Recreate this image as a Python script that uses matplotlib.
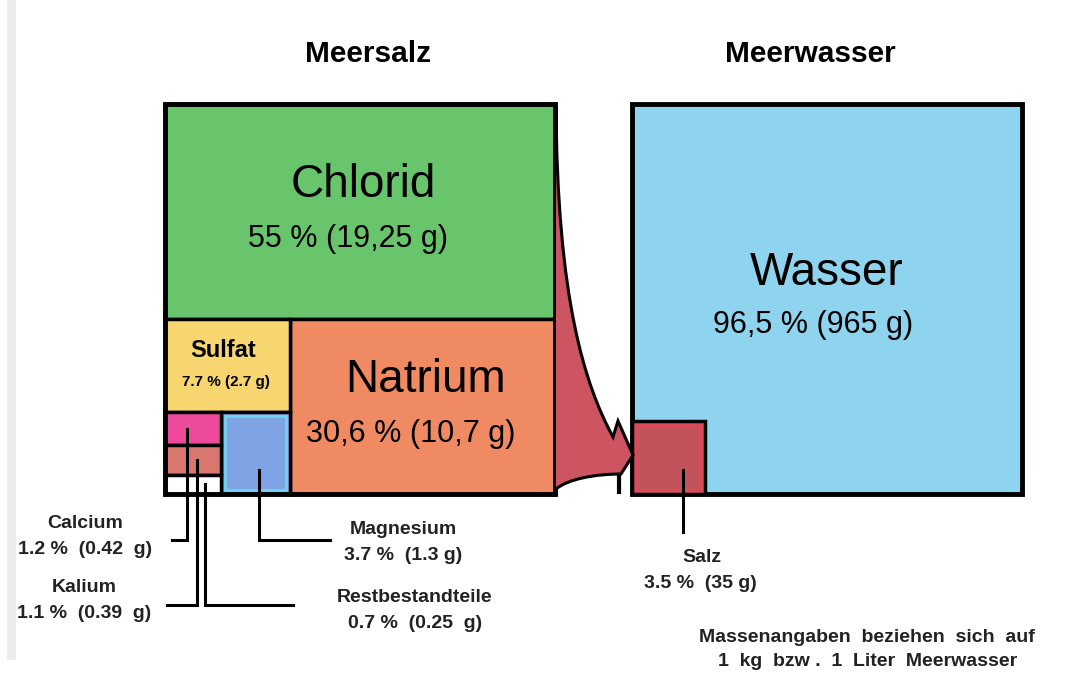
import numpy as np
import matplotlib.pyplot as plt
from matplotlib.patches import Rectangle, PathPatch
from matplotlib.path import Path

plt.rcParams['font.family'] = ['Liberation Sans', 'DejaVu Sans']

# Meersalz: Anteile am Salz (%) und Masse je kg Meerwasser
salz_namen = ['Chlorid', 'Natrium', 'Sulfat', 'Magnesium', 'Calcium', 'Kalium', 'Restbestandteile']
salz_prozent = [55, 30.6, 7.7, 3.7, 1.2, 1.1, 0.7]
salz_text = ['55 % (19,25 g)', '30,6 % (10,7 g)', '7.7 % (2.7 g)', '3.7 %  (1.3 g)',
             '1.2 %  (0.42  g)', '1.1 %  (0.39  g)', '0.7 %  (0.25  g)']
salz_farben = ['#68c56b', '#f08a62', '#f7d56f', '#7fa3e4', '#ee4a9c', '#d9776e', '#ffffff']

# Meerwasser
wasser_namen = ['Wasser', 'Salz']
wasser_prozent = [96.5, 3.5]
wasser_text = ['96,5 % (965 g)', '3.5 %  (35 g)']
wasser_farben = ['#8fd4ee', '#c2525c']

W, H = 1067, 675
fig = plt.figure(figsize=(W / 100, H / 100), dpi=100)
ax = fig.add_axes([0, 0, 1, 1])
ax.set_xlim(0, W)
ax.set_ylim(H, 0)
ax.axis('off')

S = 390            # Pixel je Einheit (Quadrat = 100 %)
LX, TY = 165, 104  # Meersalz oben links
RX = 632           # Meerwasser oben links

# faint scan strip on the left
ax.add_patch(Rectangle((7, 0), 9, 660, fc='#ececf0', ec='none'))

def box(x0, x, y, w, h, fc, lw=3):
    ax.add_patch(Rectangle((x0 + x * S, TY + y * S), w * S, h * S,
                           fc=fc, ec='black', lw=lw, joinstyle='miter'))
    return x0 + (x + w / 2) * S, TY + (y + h / 2) * S

# treemap layout from the shares
p = [v / 100 for v in salz_prozent]
chl_h = p[0]
low_h = 1 - chl_h
nat_w = p[1] / low_h
col_w = 1 - nat_w
sul_h = p[2] / col_w
mg_h = low_h - sul_h
mg_w = p[3] / mg_h
sm_w = col_w - mg_w
ca_h = p[4] / sm_w
k_h = p[5] / sm_w
r_h = p[6] / sm_w

zell = [
    (0, 0, 1, chl_h),
    (col_w, chl_h, nat_w, low_h),
    (0, chl_h, col_w, sul_h),
    (sm_w, chl_h + sul_h, mg_w, mg_h),
    (0, chl_h + sul_h, sm_w, ca_h),
    (0, chl_h + sul_h + ca_h, sm_w, k_h),
    (0, chl_h + sul_h + ca_h + k_h, sm_w, r_h),
]
mitte = []
for (x, y, w, h), fc in zip(zell, salz_farben):
    mitte.append(box(LX, x, y, w, h, fc, lw=2.5))

# inner tint on Magnesium
x, y, w, h = zell[3]
ax.add_patch(Rectangle((LX + x * S + 4, TY + y * S + 4), w * S - 8, h * S - 8,
                       fc='none', ec='#6fd3f2', lw=2))
# outer frame
ax.add_patch(Rectangle((LX, TY), S, S, fc='none', ec='black', lw=3.5))

# Meerwasser
q = [v / 100 for v in wasser_prozent]
seite = np.sqrt(q[1])
wx, wy = box(RX, 0, 0, 1, 1, wasser_farben[0], lw=3.5)
sx, sy = box(RX, 0, 1 - seite, seite, seite, wasser_farben[1], lw=2.5)
ax.add_patch(Rectangle((RX + 4, TY + (1 - seite) * S + 4), seite * S - 8, seite * S - 8,
                       fc='none', ec='#e04858', lw=2))

# funnel arrow from Meersalz to Salz
verts = [(556, 104), (557, 300), (585, 385), (613, 437),
         (618, 421), (633, 455), (621, 474),
         (595, 474), (568, 479), (556, 489), (556, 104)]
codes = [Path.MOVETO, Path.CURVE4, Path.CURVE4, Path.CURVE4,
         Path.LINETO, Path.LINETO, Path.LINETO,
         Path.CURVE4, Path.CURVE4, Path.CURVE4, Path.CLOSEPOLY]
ax.add_patch(PathPatch(Path(verts, codes), fc='#cc5561', ec='none'))
ax.add_patch(PathPatch(Path(verts[:10], codes[:10]), fc='none', ec='black', lw=2.2,
                       joinstyle='miter'))
ax.plot([619, 619], [474, 494], color='black', lw=3, solid_capstyle='butt')

# titles
ax.text(368, 54, 'Meersalz', ha='center', va='center', fontsize=21.5, fontweight='bold')
ax.text(810, 54, 'Meerwasser', ha='center', va='center', fontsize=21.5, fontweight='bold')

# labels inside cells
for i in [0, 1]:
    cx, cy = mitte[i]
    ax.text(cx + 3, cy - 26, salz_namen[i], ha='center', va='center', fontsize=33)
    ax.text(cx - 12, cy + 28, salz_text[i], ha='center', va='center', fontsize=22)
ax.text(wx, wy - 26, wasser_namen[0], ha='center', va='center', fontsize=33)
ax.text(wx - 14, wy + 26, wasser_text[0], ha='center', va='center', fontsize=22)
cx, cy = mitte[2]
ax.text(cx - 4, cy - 15, salz_namen[2], ha='center', va='center', fontsize=17, fontweight='bold')
ax.text(cx - 1, cy + 17, salz_text[2], ha='center', va='center', fontsize=11, fontweight='bold')

# leader lines
lk = dict(color='black', lw=2.2, solid_joinstyle='miter')
ax.plot([187, 187, 172], [mitte[4][1], 540, 540], **lk)
ax.plot([197, 197, 167], [mitte[5][1], 605, 605], **lk)
ax.plot([205, 205, 293], [mitte[6][1], 605, 605], **lk)
ax.plot([259, 259, 330], [470, 540, 540], **lk)
ax.plot([683, 683], [470, 532], **lk)

# outside labels
fs = 14
aussen = [(4, 85, 523), (5, 84, 588), (3, 403, 530), (6, 415, 597)]
for i, tx, ty in aussen:
    ax.text(tx, ty, salz_namen[i], ha='center', va='center', fontsize=fs, fontweight='bold', color='#222222')
    ax.text(tx, ty + 26, salz_text[i], ha='center', va='center', fontsize=fs, fontweight='bold', color='#222222')
ax.text(702, 557, wasser_namen[1], ha='center', va='center', fontsize=fs, fontweight='bold', color='#222222')
ax.text(700, 583, wasser_text[1], ha='center', va='center', fontsize=fs, fontweight='bold', color='#222222')

ax.text(867, 638, 'Massenangaben  beziehen  sich  auf', ha='center', va='center',
        fontsize=14, fontweight='bold', color='#222222')
ax.text(868, 662, '1  kg  bzw .  1  Liter  Meerwasser', ha='center', va='center',
        fontsize=14, fontweight='bold', color='#222222')

fig.savefig('out.png', dpi=100, facecolor='white')
